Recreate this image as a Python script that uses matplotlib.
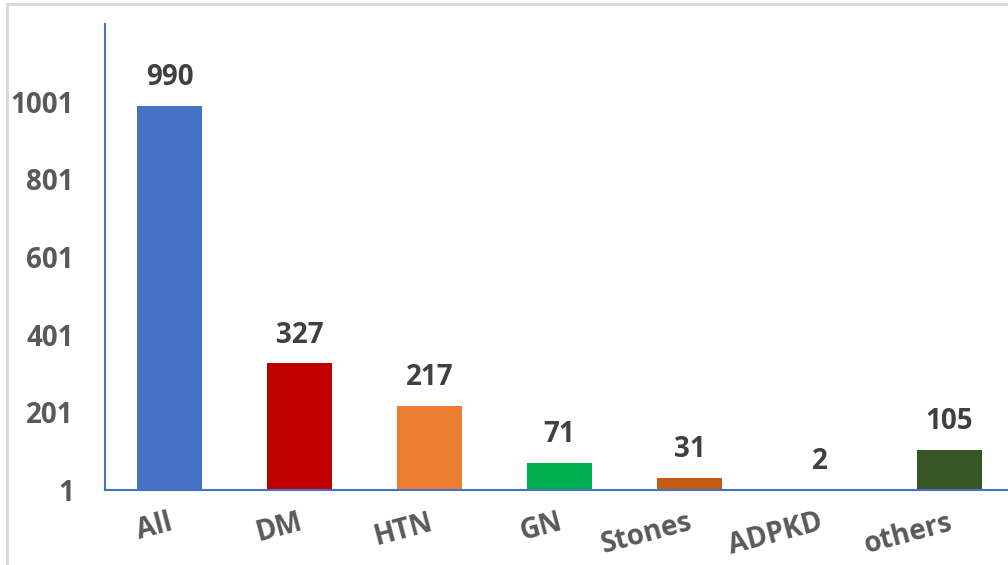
import matplotlib
matplotlib.use("Agg")
import matplotlib.pyplot as plt
from matplotlib.lines import Line2D

categories = ["All", "DM", "HTN", "GN", "Stones", "ADPKD", "others"]
values = [990, 327, 217, 71, 31, 2, 105]
colors = ["#4472C4", "#C00000", "#ED7D31", "#00B050", "#C55A11", "#2F5597", "#375623"]
yticks = [1, 201, 401, 601, 801, 1001]

plt.rcParams['font.family'] = ['Open Sans', 'DejaVu Sans']

W, H = 1008, 565
fig = plt.figure(figsize=(W / 100, H / 100), dpi=100)
fig.patch.set_facecolor("white")

# outer chart border (light gray, cut at right/bottom)
fig.add_artist(Line2D([7 / W, 7 / W], [0, 1 - 4 / H], transform=fig.transFigure,
                      color="#D9D9D9", linewidth=2))
fig.add_artist(Line2D([7 / W, 1], [1 - 4 / H, 1 - 4 / H], transform=fig.transFigure,
                      color="#D9D9D9", linewidth=2))

ax = fig.add_axes([104.5 / W, 75 / H, 910 / W, 466 / H])
x = list(range(len(categories)))
ax.bar(x, [v - 1 for v in values], bottom=1, width=0.5, color=colors, zorder=2)
ax.set_xlim(-0.5, len(categories) - 0.5)
ax.set_ylim(1, 1201)
ax.set_yticks(yticks)
ax.set_yticklabels([str(t) for t in yticks], fontsize=20, fontweight="bold", color="#595959")
ax.tick_params(axis="y", length=0, pad=22)
ax.set_xticks(x)
ax.set_xticklabels([])
ax.tick_params(axis="x", length=0)

for side in ["top", "right"]:
    ax.spines[side].set_visible(False)
ax.spines["left"].set_color("#4472C4")
ax.spines["bottom"].set_color("#4472C4")
ax.spines["left"].set_linewidth(1.5)
ax.spines["bottom"].set_linewidth(1.5)

for xi, v in zip(x, values):
    ax.annotate(str(v), (xi, v), xytext=(0, 10), textcoords="offset points",
                ha="center", va="bottom", fontsize=20, fontweight="bold", color="#404040")

for xi, c in zip(x, categories):
    ax.annotate(c, (xi, 1), xytext=(-1, -13), textcoords="offset points",
                ha="right", va="top", rotation=15, rotation_mode="anchor",
                fontsize=20, fontweight="bold", color="#595959", annotation_clip=False)

fig.savefig("out.png", dpi=100)
